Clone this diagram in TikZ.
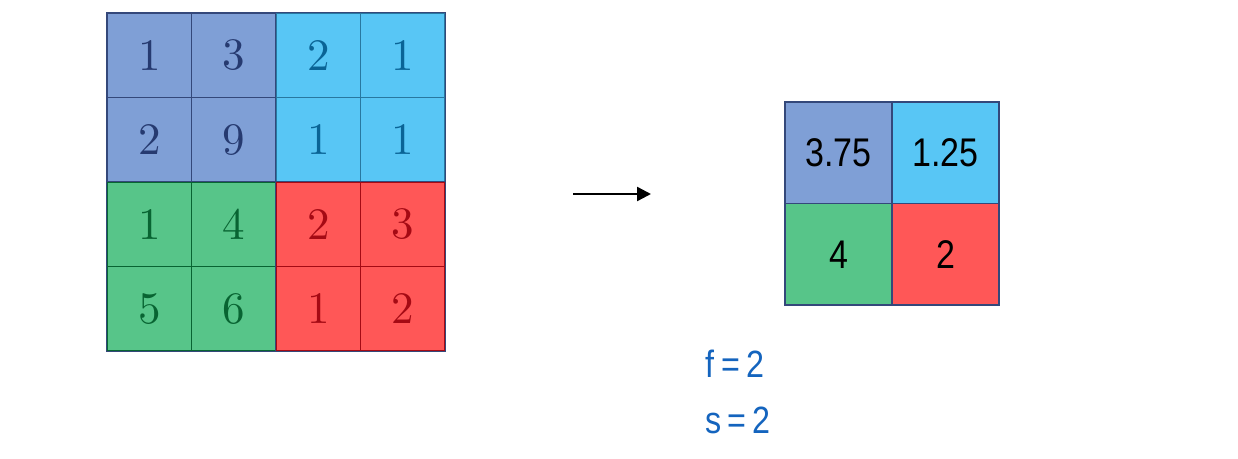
\documentclass[tikz,border=0pt]{standalone}
\usepackage{fontspec}
\newfontfamily\handfont{Liberation Sans}[FakeStretch=0.85]
\newfontfamily\gridfont{lmroman10-regular.otf}
\usetikzlibrary{arrows.meta}
\definecolor{poolpurple}{RGB}{127,159,214}
\definecolor{poolsky}{RGB}{88,198,245}
\definecolor{poolgreen}{RGB}{87,197,137}
\definecolor{poolred}{RGB}{255,87,87}
\definecolor{gridnavy}{RGB}{52,72,122}
\definecolor{navytext}{RGB}{38,58,112}
\definecolor{skytext}{RGB}{10,100,150}
\definecolor{skyline}{RGB}{40,120,160}
\definecolor{greentext}{RGB}{8,100,50}
\definecolor{redtext}{RGB}{165,10,20}
\definecolor{inkblue}{RGB}{20,100,190}

\begin{document}
\begin{tikzpicture}[x=1pt, y=-1pt,
  cell/.style={draw, line width=1.1pt, minimum width=84.5pt, minimum height=84.5pt,
    inner sep=0pt, font=\gridfont\fontsize{45}{50}\selectfont},
  qa/.style={fill=poolpurple, draw=gridnavy, text=navytext},
  qb/.style={fill=poolsky, draw=skyline, text=skytext},
  qc/.style={fill=poolgreen, draw=greentext, text=greentext},
  qd/.style={fill=poolred, draw=redtext, text=redtext},
  outcell/.style={draw=gridnavy, line width=1.5pt, minimum width=107pt, minimum height=101.5pt,
    inner sep=0pt, font=\handfont\fontsize{40}{44}\selectfont},
  hyper/.style={text=inkblue, font=\handfont\fontsize{38}{42}\selectfont},
  arr/.style={-{Triangle[length=14pt, width=14pt]}, line width=2.4pt}
]
\useasboundingbox (0,0) rectangle (1238,458);

% input 4x4 grid
\foreach \r/\c/\v/\q in {0/0/1/qa, 0/1/3/qa, 0/2/2/qb, 0/3/1/qb,
                          1/0/2/qa, 1/1/9/qa, 1/2/1/qb, 1/3/1/qb,
                          2/0/1/qc, 2/1/4/qc, 2/2/2/qd, 2/3/3/qd,
                          3/0/5/qc, 3/1/6/qc, 3/2/1/qd, 3/3/2/qd}
  \node[cell, \q] (a-\r-\c) at ({107+84.5*(\c+0.5)}, {13+84.5*(\r+0.5)}) {\v};
\draw[gridnavy, line width=1.5pt] (a-0-0.north west) rectangle (a-3-3.south east);
\draw[gridnavy, line width=1.5pt] (a-0-2.north west) -- (a-3-2.south west);
\draw[gridnavy, line width=1.5pt] (a-2-0.north west) -- (a-2-3.north east);

% pooled 2x2 grid
\node[outcell, fill=poolpurple] (b-0-0) at (838.5, 152.75) {3.75};
\node[outcell, fill=poolsky] (b-0-1) at (945.5, 152.75) {1.25};
\node[outcell, fill=poolgreen] (b-1-0) at (838.5, 254.25) {4};
\node[outcell, fill=poolred] (b-1-1) at (945.5, 254.25) {2};

% arrow
\coordinate (arrowtail) at (573, 194);
\coordinate (arrowtip) at (651, 194);
\draw[arr] (arrowtail) -- (arrowtip);

% hyperparameters
\node[hyper] (filt) at (735, 364) {f\,=\,2};
\node[hyper] (strd) at (738, 420) {s\,=\,2};
\end{tikzpicture}
\end{document}
